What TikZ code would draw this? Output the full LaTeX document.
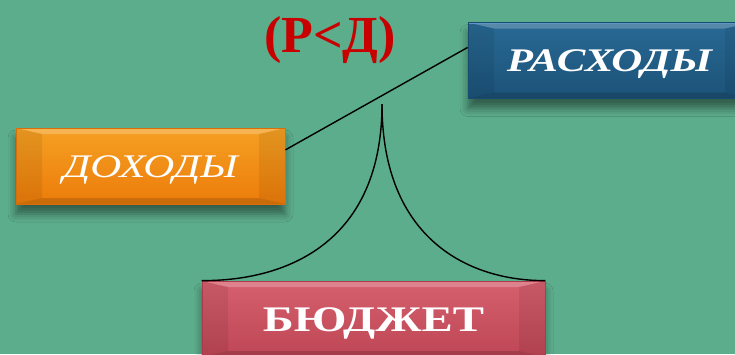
\documentclass[tikz,border=0pt]{standalone}
\usepackage{fontspec}
\setmainfont{Liberation Serif}
\newfontfamily\boxfont[FakeStretch=1.3]{Liberation Serif}
\usetikzlibrary{shadows.blur,calc}
\definecolor{bg}{RGB}{92,173,140}
\definecolor{titlered}{RGB}{200,0,0}
\definecolor{orangetop}{RGB}{245,160,35}
\definecolor{orangebot}{RGB}{236,124,10}
\definecolor{orangeedge}{RGB}{255,205,70}
\definecolor{orangeline}{RGB}{215,110,10}
\definecolor{bluetop}{RGB}{40,105,148}
\definecolor{bluebot}{RGB}{28,82,120}
\definecolor{blueedge}{RGB}{95,150,200}
\definecolor{blueline}{RGB}{25,75,110}
\definecolor{redtop}{RGB}{214,96,110}
\definecolor{redbot}{RGB}{190,70,85}
\definecolor{rededge}{RGB}{240,130,140}
\definecolor{redline}{RGB}{170,60,75}
\tikzset{
  bevel/.style={path picture={
    \coordinate (nw) at (path picture bounding box.north west);
    \coordinate (se) at (path picture bounding box.south east);
    \coordinate (ne) at (nw -| se);
    \coordinate (sw) at (se -| nw);
    \coordinate (inw) at ($(nw)+(26pt,-6pt)$);
    \coordinate (ine) at ($(ne)+(-26pt,-6pt)$);
    \coordinate (ise) at ($(se)+(-26pt,6pt)$);
    \coordinate (isw) at ($(sw)+(26pt,6pt)$);
    \fill[white,opacity=.22] (nw) -- (ne) -- (ine) -- (inw) -- cycle;
    \fill[black,opacity=.07] (nw) -- (inw) -- (isw) -- (sw) -- cycle;
    \fill[black,opacity=.07] (ne) -- (ine) -- (ise) -- (se) -- cycle;
    \fill[black,opacity=.14] (sw) -- (isw) -- (ise) -- (se) -- cycle;
    \draw[#1, line width=2.5pt] (nw) -- (ne);
  }},
  boxnode/.style={minimum height=76pt, inner sep=0pt, text=white, text depth=0pt,
    blur shadow={shadow xshift=0pt, shadow yshift=-10pt, shadow blur radius=8pt, shadow opacity=45},
    line width=0.8pt},
  orangebox/.style={boxnode, top color=orangetop, bottom color=orangebot, draw=orangeline, bevel=orangeedge},
  bluebox/.style={boxnode, top color=bluetop, bottom color=bluebot, draw=blueline, bevel=blueedge},
  redbox/.style={boxnode, top color=redtop, bottom color=redbot, draw=redline, bevel=rededge},
  link/.style={black, line width=1.4pt}
}
\begin{document}
\begin{tikzpicture}[x=1pt,y=-1pt]
\fill[bg] (0,0) rectangle (735,354);
\useasboundingbox (0,0) rectangle (735,354);

\node[orangebox, minimum width=269pt, text height=22pt,
      font=\boxfont\itshape\fontsize{33}{36}\selectfont] (d) at (150.5,166) {ДОХОДЫ};
\node[bluebox, minimum width=283pt, text height=22pt,
      font=\boxfont\bfseries\itshape\fontsize{33}{36}\selectfont] (r) at (609.5,60.5) {РАСХОДЫ};
\node[redbox, minimum width=343pt, text height=24pt,
      font=\boxfont\bfseries\fontsize{36}{40}\selectfont] (b) at (373.5,319) {БЮДЖЕТ};

\node[anchor=base, text=titlered, inner sep=0pt,
      font=\bfseries\fontsize{52}{56}\selectfont] (t) at (330,52) {(Р<Д)};

\coordinate (apex) at (382,104);
\draw[link] ($(d.north east)!0.29!(d.south east)$) -- ($(r.north west)!0.33!(r.south west)$);
\draw[link] (apex) .. controls (382,240) and (290,281) .. (b.north west);
\draw[link] (apex) .. controls (382,240) and (470,281) .. (b.north east);
\end{tikzpicture}
\end{document}
